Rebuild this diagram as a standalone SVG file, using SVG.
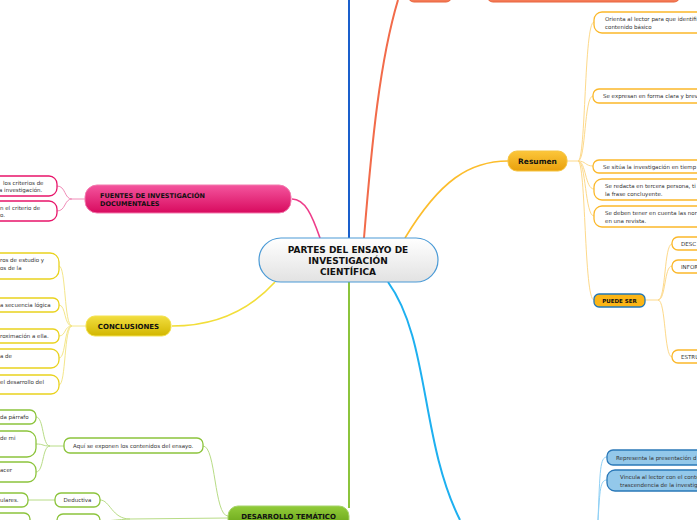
<svg xmlns="http://www.w3.org/2000/svg" width="697" height="520" viewBox="0 0 697 520">
<defs>
<linearGradient id="gCentral" x1="0" y1="0" x2="0" y2="1"><stop offset="0" stop-color="#ffffff"/><stop offset="1" stop-color="#e2e2e2"/></linearGradient>
<linearGradient id="gPink" x1="0" y1="0" x2="0" y2="1"><stop offset="0" stop-color="#f4559e"/><stop offset="1" stop-color="#d80a5e"/></linearGradient>
<linearGradient id="gYellow" x1="0" y1="0" x2="0" y2="1"><stop offset="0" stop-color="#f2de40"/><stop offset="1" stop-color="#d2b600"/></linearGradient>
<linearGradient id="gGold" x1="0" y1="0" x2="0" y2="1"><stop offset="0" stop-color="#fcc63a"/><stop offset="1" stop-color="#e8a00c"/></linearGradient>
<linearGradient id="gGreen" x1="0" y1="0" x2="0" y2="1"><stop offset="0" stop-color="#92cc3a"/><stop offset="1" stop-color="#5c980e"/></linearGradient>
</defs>
<style>
text{font-family:"DejaVu Sans","Liberation Sans",sans-serif;fill:#333333;}
.t{font-size:5.5px;}
.b{font-weight:bold;fill:#111111;}
.c{fill:none;}
.sub{fill:#ffffff;stroke-width:1.3;}
.or{stroke:#fbb82a;}
.pk{stroke:#e8156a;}
.ye{stroke:#e9d21e;}
.gr{stroke:#8cc43c;}
.bl{fill:#93c8ea;stroke:#2a78b8;stroke-width:1.3;}
</style>

<g id="connectors" fill="none">
<path d="M349,238 L349,0" stroke="#1a5fcc" stroke-width="2"/>
<path d="M364,238 C372,140 380,60 398,0" stroke="#f26b4a" stroke-width="2"/>
<path d="M405,238 C440,180 470,161 508,161" stroke="#fcbd2c" stroke-width="1.6"/>
<path d="M320,238 C312,215 305,199 292,199" stroke="#ee3d8a" stroke-width="1.6"/>
<path d="M275,282 C245,315 210,326 172,326" stroke="#f2de3a" stroke-width="1.6"/>
<path d="M349,282 L349,508" stroke="#8cc43c" stroke-width="2"/>
<path d="M388,282 C430,340 420,440 460,520" stroke="#1eb0f0" stroke-width="2"/>
<!-- Resumen fan -->
<g stroke="#fdd98a" stroke-width="1">
<path d="M567,161 L578,161"/>
<path d="M578,161 C586,161 584,22 594,22"/>
<path d="M578,161 C586,161 584,96 593,96"/>
<path d="M578,161 C586,161 585,166 593,166"/>
<path d="M578,161 C586,161 585,189 594,189"/>
<path d="M578,161 C586,161 585,216 594,216"/>
<path d="M578,161 C586,161 584,300 594,300"/>
<path d="M645,300 L658,300"/>
<path d="M658,300 C666,300 664,244 672,244"/>
<path d="M658,300 C666,300 664,266 672,266"/>
<path d="M658,300 C666,300 664,357 672,357"/>
</g>
<!-- blue fan -->
<g stroke="#8fd0f5" stroke-width="1">
<path d="M598,520 C600,470 600,457 607,457"/>
<path d="M598,520 C600,490 600,480 607,480"/>
</g>
<!-- pink fan -->
<g stroke="#f08cb8" stroke-width="1">
<path d="M85,199 L72,199"/>
<path d="M72,199 C64,199 66,186 57,186"/>
<path d="M72,199 C64,199 66,211 57,211"/>
</g>
<!-- yellow fan -->
<g stroke="#f4e68a" stroke-width="1">
<path d="M86,326 L72,326"/>
<path d="M72,326 C64,326 66,266 59,266"/>
<path d="M72,326 C64,326 66,305 59,305"/>
<path d="M72,326 C64,326 66,336 59,336"/>
<path d="M72,326 C64,326 66,358 59,358"/>
<path d="M72,326 C64,326 66,385 59,385"/>
</g>
<!-- green fan -->
<g stroke="#b8dc86" stroke-width="1">
<path d="M228,516 C214,516 216,446 203,446"/>
<path d="M64,446 L50,446"/>
<path d="M50,446 C42,446 44,417 36,417"/>
<path d="M50,446 C42,446 44,444 36,444"/>
<path d="M50,446 C42,446 44,472 36,472"/>
<path d="M228,518 L130,519"/>
<path d="M130,519 C112,519 110,500 100,500"/>
<path d="M55,500 L28,500"/>
<path d="M100,521 C110,521 112,520 130,519"/>
<path d="M57,521 L30,521"/>
</g>
</g>

<g id="n-top1"><rect x="408" y="-20" width="44" height="22" rx="6" fill="#f47b56" stroke="#e8643e"/></g>
<g id="n-top2"><rect x="487" y="-20" width="193" height="22" rx="6" fill="#f47b56" stroke="#e8643e"/></g>

<g id="n-central">
<rect x="259" y="238" width="179" height="44" rx="22" fill="url(#gCentral)" stroke="#4a9ad6" stroke-width="1.2"/>
<text class="b" x="348" y="253" font-size="9" text-anchor="middle">PARTES DEL ENSAYO DE</text>
<text class="b" x="348" y="264" font-size="9" text-anchor="middle">INVESTIGACIÓN</text>
<text class="b" x="348" y="275" font-size="9" text-anchor="middle">CIENTÍFICA</text>
</g>

<g id="n-resumen">
<rect x="508" y="151" width="59" height="20" rx="9" fill="url(#gGold)" stroke="#f6c440" stroke-width="1"/>
<text class="b" x="537.5" y="164" font-size="7.5" text-anchor="middle">Resumen</text>
</g>
<g id="n-r1"><rect class="sub or" x="594" y="12" width="120" height="21" rx="8"/>
<text class="t" x="605" y="21">Orienta al lector para que identifi</text><text class="t" x="605" y="28.5">contenido básico</text></g>
<g id="n-r2"><rect class="sub or" x="593" y="89" width="120" height="14" rx="6"/>
<text class="t" x="603" y="98">Se expresan en forma clara y brev</text></g>
<g id="n-r3"><rect class="sub or" x="593" y="160" width="120" height="13" rx="6"/>
<text class="t" x="603" y="168.5">Se sitúa la investigación en tiemp</text></g>
<g id="n-r4"><rect class="sub or" x="594" y="179" width="120" height="21" rx="8"/>
<text class="t" x="605" y="188">Se redacta en tercera persona, ti</text><text class="t" x="605" y="195.5">la frase concluyente.</text></g>
<g id="n-r5"><rect class="sub or" x="594" y="206" width="120" height="21" rx="8"/>
<text class="t" x="605" y="215">Se deben tener en cuenta las nor</text><text class="t" x="605" y="222.5">en una revista.</text></g>
<g id="n-puede">
<rect x="594" y="294" width="51" height="13" rx="5" fill="#fbb516" stroke="#2377b5" stroke-width="1.3"/>
<text class="b" x="619.5" y="303" font-size="5.5" text-anchor="middle">PUEDE SER</text>
</g>
<g id="n-p1"><rect class="sub or" x="672" y="237" width="60" height="13" rx="6"/><text class="t" x="681" y="246">DESC</text></g>
<g id="n-p2"><rect class="sub or" x="672" y="260" width="60" height="13" rx="6"/><text class="t" x="681" y="269">INFOR</text></g>
<g id="n-p3"><rect class="sub or" x="672" y="350" width="60" height="13" rx="6"/><text class="t" x="681" y="359">ESTRU</text></g>

<g id="n-b1"><rect class="bl" x="607" y="450" width="110" height="15" rx="6"/><text class="t" x="616" y="460">Representa la presentación d</text></g>
<g id="n-b2"><rect class="bl" x="607" y="470" width="110" height="21" rx="8"/>
<text class="t" x="620" y="479">Vincula al lector con el conte</text><text class="t" x="620" y="486.5">trascendencia de la investig</text></g>

<g id="n-fuentes">
<rect x="85" y="185" width="206" height="28" rx="12" fill="url(#gPink)" stroke="#f27aae" stroke-width="1"/>
<text class="b" x="100" y="197.5" font-size="6.5">FUENTES DE INVESTIGACIÓN</text>
<text class="b" x="100" y="206" font-size="6.5">DOCUMENTALES</text>
</g>
<g id="n-f1"><rect class="sub pk" x="-10" y="176" width="67" height="20" rx="8"/>
<text class="t" x="3" y="184.5">los criterios de</text><text class="t" x="-1" y="191.5">a investigación.</text></g>
<g id="n-f2"><rect class="sub pk" x="-10" y="201" width="67" height="20" rx="8"/>
<text class="t" x="0" y="210">n el criterio de</text><text class="t" x="0" y="217">o.</text></g>

<g id="n-concl">
<rect x="86" y="316" width="85" height="20" rx="9" fill="url(#gYellow)" stroke="#f4e24e" stroke-width="1"/>
<text class="b" x="128.5" y="329" font-size="7" text-anchor="middle">CONCLUSIONES</text>
</g>
<g id="n-c1"><rect class="sub ye" x="-10" y="253" width="69" height="26" rx="9"/>
<text class="t" x="0" y="262">ros de estudio y</text><text class="t" x="0" y="269.5">os de la</text></g>
<g id="n-c2"><rect class="sub ye" x="-10" y="298" width="69" height="14" rx="6"/><text class="t" x="0" y="307">a secuencia lógica</text></g>
<g id="n-c3"><rect class="sub ye" x="-10" y="329" width="69" height="14" rx="6"/><text class="t" x="0" y="338">roximación a ella.</text></g>
<g id="n-c4"><rect class="sub ye" x="-10" y="349" width="69" height="19" rx="8"/><text class="t" x="0" y="358">a de</text></g>
<g id="n-c5"><rect class="sub ye" x="-10" y="375" width="69" height="19" rx="8"/><text class="t" x="0" y="384">el desarrollo del</text></g>

<g id="n-desarrollo">
<rect x="228" y="506" width="121" height="26" rx="10" fill="url(#gGreen)" stroke="#a6d46a" stroke-width="1"/>
<text class="b" x="288.5" y="519" font-size="7" text-anchor="middle">DESARROLLO TEMÁTICO</text>
</g>
<g id="n-aqui"><rect class="sub gr" x="64" y="438" width="139" height="15" rx="6"/><text class="t" x="73" y="448">Aquí se exponen los contenidos del ensayo.</text></g>
<g id="n-a1"><rect class="sub gr" x="-10" y="410" width="46" height="14" rx="6"/><text class="t" x="0" y="419">da párrafo</text></g>
<g id="n-a2"><rect class="sub gr" x="-10" y="431" width="46" height="26" rx="9"/><text class="t" x="0" y="440">de mi</text></g>
<g id="n-a3"><rect class="sub gr" x="-10" y="462" width="46" height="20" rx="8"/><text class="t" x="0" y="472">acer</text></g>
<g id="n-deductiva"><rect class="sub gr" x="55" y="493" width="45" height="14" rx="6"/><text class="t" x="77.5" y="502" text-anchor="middle">Deductiva</text></g>
<g id="n-d1"><rect class="sub gr" x="-10" y="493" width="38" height="14" rx="6"/><text class="t" x="0" y="502">ulares.</text></g>
<g id="n-ind"><rect class="sub gr" x="57" y="514" width="43" height="16" rx="6"/></g>
<g id="n-i1"><rect class="sub gr" x="-10" y="513" width="40" height="18" rx="6"/></g>
</svg>
